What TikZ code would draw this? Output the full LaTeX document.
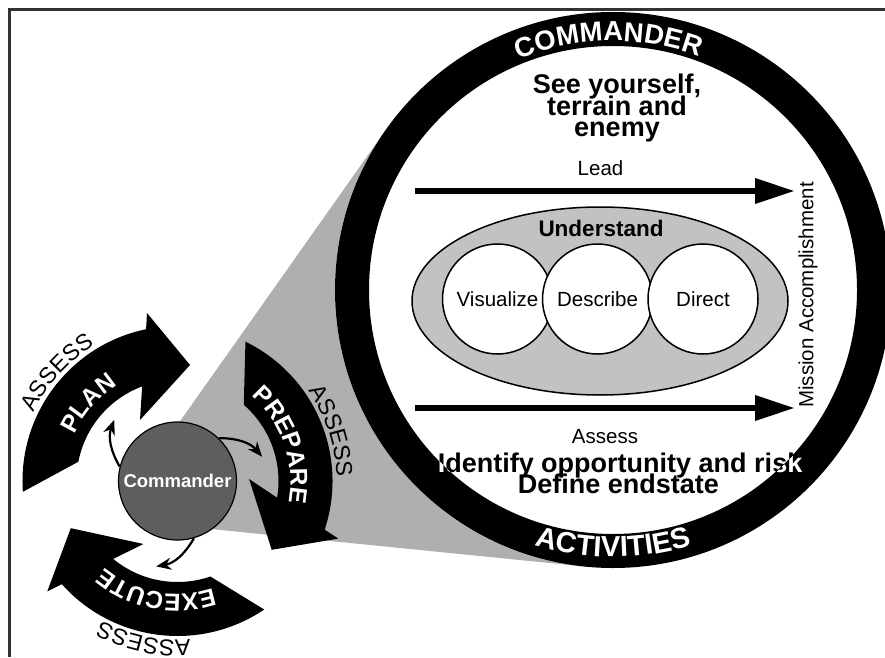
\documentclass[tikz,border=0pt]{standalone}
\usepackage{fontspec}
\setmainfont{Liberation Sans}
\usetikzlibrary{arrows.meta,decorations.text,calc,shapes.geometric}
\definecolor{wedgegray}{HTML}{AFAFAF}
\definecolor{ellgray}{HTML}{C2C2C2}
\definecolor{cmdgray}{HTML}{5E5E5E}
\definecolor{framegray}{HTML}{333333}
\newcommand\fsz[1]{\fontsize{#1}{#1}\selectfont}
\newcommand\ringfontA{\bfseries\fontsize{27.5}{30}\selectfont}
\newcommand\ringfontB{\bfseries\fontsize{29}{31}\selectfont}
\newcommand\arrowfont{\bfseries\fontsize{24.5}{26}\selectfont}
\newcommand\assessfont{\fontsize{23}{25}\selectfont}
\begin{document}
\begin{tikzpicture}[x=1pt,y=1pt,
  bigtext/.style={font=\bfseries\fsz{27}, anchor=base},
  regtext/.style={font=\fsz{20.5}},
  smallcirc/.style={circle, draw, fill=white, line width=1.5pt, minimum size=110pt, inner sep=0pt, font=\fsz{20.5}},
  thickarrow/.style={line width=6.5pt, -{Triangle[length=40pt,width=24pt]}},
  smallarrow/.style={line width=2.2pt, -{Stealth[length=15pt,width=12pt]}},
  cycletext/.style={decorate, decoration={text along path, text color=white, text align=center, text={|\arrowfont|#1}}},
  assesstext/.style={decorate, decoration={text along path, text align=center, text={|\assessfont|#1}}}
]
\clip (0,0) rectangle (885,657);
\coordinate (C) at (613,367);
\coordinate (K) at (177.5,176);
\coordinate (A) at (111,138);
\coordinate (T1) at ($(C)+(144.77:278)$);
\coordinate (T2) at ($(C)+(264.27:278)$);
% frame
\draw[framegray, line width=2.5pt] (9.5,0) -- (9.5,647.5) -- (885,647.5);
% gray wedge
\fill[wedgegray] ($(A)!0.18!(T1)$) -- (T1) -- (C) -- (T2) -- ($(A)!0.125!(T2)$) -- cycle;
% big circle and ring
\fill[white] (C) circle (278);
\fill[black, even odd rule] (C) circle (278) (C) circle (244);
\path[decorate, decoration={text along path, text color=white, text align=center, text={|\ringfontA|COMMANDER}}]
  ($(C)+(131:249)$) arc[start angle=131, end angle=51, radius=249];
\path[decorate, decoration={text along path, text color=white, text align=center, text={|\ringfontB|ACTIVITIES}}]
  ($(C)+(-130:267)$) arc[start angle=-130, end angle=-50, radius=267];
% inner content
\node[bigtext] (see1) at (617,563) {See yourself,};
\node[bigtext] (see2) at (617,541) {terrain and};
\node[bigtext] (see3) at (617,520) {enemy};
\node[regtext, anchor=base] (lead) at (600.5,481) {Lead};
\coordinate (leadS) at (415,466);
\coordinate (leadE) at (795,466);
\draw[thickarrow] (leadS) -- (leadE);
\node[ellipse, draw, fill=ellgray, line width=1.5pt, minimum width=376pt, minimum height=188pt] (und) at (600,356) {};
\node[font=\bfseries\fsz{22.5}, anchor=base] (under) at (601,420.3) {Understand};
\node[smallcirc] (vis) at (497.5,358) {Visualize};
\node[smallcirc] (des) at (597.5,358) {Describe};
\node[smallcirc] (dir) at (703,358) {Direct};
\coordinate (assS) at (415,249);
\coordinate (assE) at (795,249);
\draw[thickarrow] (assS) -- (assE);
\node[regtext, anchor=base] (assess) at (605,214) {Assess};
\node[bigtext] (id1) at (620,184.7) {Identify opportunity and risk};
\node[bigtext] (id2) at (618.5,163.7) {Define endstate};
\begin{scope}
  \clip ($(C)+(278,0)$) arc[start angle=0, end angle=360, radius=278] -- ($(C)+(244,0)$) arc[start angle=0, end angle=-360, radius=244] -- cycle;
  \node[bigtext, text=white] (id1w) at (620,184.7) {Identify opportunity and risk};
\end{scope}
\node[regtext, rotate=90] (mission) at (808,362) {Mission Accomplishment};
% cycle arrows
\begin{scope}[shift={(K)}, rotate=0]
  \fill[black] (184:155) arc[start angle=184, end angle=101.7, radius=155] -- (-30.5,168) -- (12.5,116) -- (-37.5,61) -- (110.5:101) arc[start angle=110.5, end angle=169, radius=101] -- cycle;
  \path[cycletext=PLAN] (178:113) arc[start angle=178, end angle=100, radius=113];
  \path[assesstext=ASSESS] (175:159) arc[start angle=175, end angle=101, radius=159];
\end{scope}
\begin{scope}[shift={(K)}, rotate=-120]
  \fill[black] (184:155) arc[start angle=184, end angle=101.7, radius=155] -- (-30.5,168) -- (12.5,116) -- (-37.5,61) -- (110.5:101) arc[start angle=110.5, end angle=169, radius=101] -- cycle;
  \path[cycletext=PREPARE] (178:113) arc[start angle=178, end angle=100, radius=113];
  \path[assesstext=ASSESS] (175:159) arc[start angle=175, end angle=101, radius=159];
\end{scope}
\begin{scope}[shift={(K)}, rotate=-240]
  \fill[black] (184:155) arc[start angle=184, end angle=101.7, radius=155] -- (-30.5,168) -- (12.5,116) -- (-37.5,61) -- (110.5:101) arc[start angle=110.5, end angle=169, radius=101] -- cycle;
  \path[cycletext=EXECUTE] (178:113) arc[start angle=178, end angle=100, radius=113];
  \path[assesstext=ASSESS] (175:159) arc[start angle=175, end angle=101, radius=159];
\end{scope}
% commander
\node[circle, draw, fill=cmdgray, line width=1.2pt, minimum size=118pt, inner sep=0pt, text=white, font=\bfseries\fsz{18.5}] (cmd) at (K) {Commander};
\coordinate (tip0) at ($(K)+(136:88)$);
\coordinate (tip1) at ($(K)+(16:88)$);
\coordinate (tip2) at ($(K)+(-104:88)$);
\draw[smallarrow] (cmd.166) to[out=120, in=250] (tip0);
\draw[smallarrow] (cmd.46) to[out=0, in=130] (tip1);
\draw[smallarrow] (cmd.-74) to[out=-120, in=10] (tip2);
\end{tikzpicture}
\end{document}
